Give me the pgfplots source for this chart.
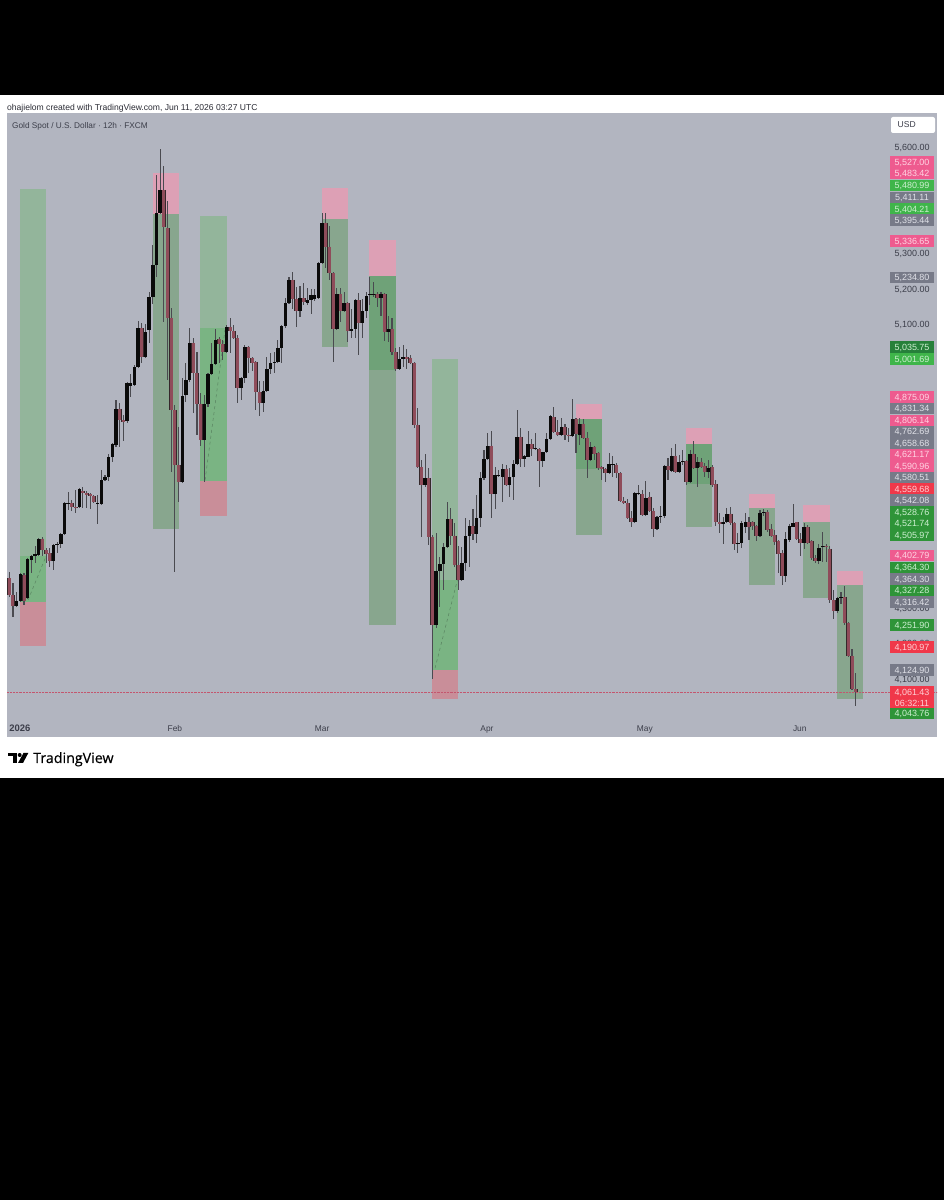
\documentclass[border=0pt]{standalone}
\usepackage{pgfplots}
\usepackage{pgfplotstable}
\pgfplotsset{compat=1.18}
\usepackage{fontspec}
\setmainfont{Liberation Sans}
\newfontfamily\logofont[FakeBold=0.4]{Open Sans}
\definecolor{panel}{HTML}{B2B5C0}
\definecolor{gLight}{HTML}{93B59B}
\definecolor{gLightIn}{HTML}{7AB483}
\definecolor{gGrey}{HTML}{88A68E}
\definecolor{gGreyIn}{HTML}{6FA278}
\definecolor{zPink}{HTML}{DDA0B5}
\definecolor{zStop}{HTML}{C98E99}
\definecolor{bPink}{HTML}{EE5B8F}
\definecolor{bGrey}{HTML}{777A88}
\definecolor{bGreen}{HTML}{3FB54A}
\definecolor{bDGreen}{HTML}{2E9438}
\definecolor{bDDGreen}{HTML}{26803A}
\definecolor{bRed}{HTML}{F0384A}
\definecolor{tPink}{HTML}{FFD3E2}
\definecolor{tGrey}{HTML}{E0E1E8}
\definecolor{tGreen}{HTML}{CDEFD0}
\definecolor{tRed}{HTML}{FFD0D4}
\definecolor{txt}{HTML}{3C3E4A}
\definecolor{wick}{HTML}{4A4A50}
\definecolor{redbody}{HTML}{8F4C5A}
\definecolor{redline}{HTML}{35282B}
\definecolor{blackbody}{HTML}{0A0A0A}
\definecolor{lastline}{HTML}{C4566E}
\pgfplotstableread{
i o h l c
0 4384 4401 4330 4336
1 4336 4371 4274 4305
2 4305 4345 4302 4319
3 4319 4398 4316 4396
4 4393 4398 4308 4319
5 4328 4440 4325 4438
6 4435 4449 4398 4446
7 4446 4474 4426 4452
8 4449 4497 4446 4495
9 4495 4500 4446 4463
10 4463 4469 4426 4452
11 4454 4469 4415 4432
12 4432 4480 4407 4477
13 4477 4486 4454 4480
14 4480 4511 4469 4509
15 4509 4598 4506 4596
16 4593 4627 4576 4596
17 4596 4604 4573 4584
18 4584 4632 4567 4581
19 4584 4638 4581 4636
20 4630 4641 4581 4624
21 4624 4630 4581 4618
22 4621 4624 4579 4615
23 4615 4618 4596 4598
24 4593 4618 4537 4596
25 4593 4689 4590 4661
26 4661 4675 4658 4669
27 4669 4734 4658 4725
28 4725 4765 4711 4762
29 4759 4886 4754 4861
30 4861 4878 4754 4830
31 4830 4844 4771 4824
32 4827 4937 4821 4934
33 4926 4960 4895 4934
34 4929 4985 4926 4979
35 4979 5109 4976 5089
36 5089 5103 4990 5007
37 5007 5100 5004 5078
38 5084 5191 5047 5177
39 5177 5324 5157 5267
40 5267 5521 5233 5414
41 5414 5594 5411 5479
42 5479 5546 5106 5374
43 5371 5448 4943 5118
44 5118 5146 4683 4858
45 4858 4872 4401 4703
46 4703 4810 4598 4655
47 4655 4949 4652 4897
48 4900 4991 4880 4943
49 4943 5089 4937 5047
50 5047 5061 4850 4963
51 4963 5022 4788 4875
52 4875 4906 4756 4773
53 4773 4900 4655 4875
54 4875 4963 4866 4960
55 4960 5047 4957 4988
56 4988 5087 4985 5056
57 5058 5064 4991 5044
58 5044 5056 4999 5022
59 5022 5098 5020 5092
60 5092 5118 5019 5081
61 5081 5098 5058 5061
62 5061 5070 4878 4920
63 4920 4951 4886 4949
64 4949 5042 4934 5036
65 5036 5038 4963 5005
66 5005 5008 4968 4991
67 4994 4997 4858 4909
68 4909 4940 4841 4878
69 4878 4940 4852 4912
70 4912 5008 4909 4974
71 4974 5019 4960 4991
72 4991 5022 4963 4994
73 4994 5056 4991 5033
74 5033 5098 4991 5095
75 5095 5174 5090 5160
76 5160 5233 5158 5225
77 5225 5247 5143 5171
78 5171 5205 5092 5137
79 5137 5208 5120 5174
80 5174 5216 5154 5163
81 5160 5202 5154 5168
82 5168 5199 5129 5183
83 5171 5199 5166 5183
84 5174 5275 5171 5272
85 5272 5414 5270 5386
86 5386 5414 5259 5318
87 5318 5377 5225 5244
88 5244 5247 4993 5087
89 5087 5202 5084 5185
90 5185 5202 5106 5137
91 5137 5191 5134 5160
92 5160 5163 5050 5081
93 5081 5143 5061 5087
94 5087 5171 5061 5168
95 5168 5188 5013 5103
96 5103 5171 5061 5137
97 5137 5191 5118 5180
98 5183 5233 5154 5185
99 5183 5219 5177 5186
100 5185 5191 5149 5174
101 5174 5191 5123 5185
102 5185 5188 5053 5078
103 5078 5123 5050 5087
104 5087 5118 5013 5022
105 5022 5033 4968 4974
106 4974 5036 4971 5002
107 5002 5042 4979 5008
108 5008 5030 4974 5002
109 5005 5013 4988 4991
110 4991 4993 4808 4816
111 4816 4864 4694 4697
112 4697 4717 4500 4647
113 4647 4734 4641 4666
114 4666 4694 4477 4500
115 4500 4506 4099 4252
116 4252 4511 4243 4404
117 4404 4443 4302 4423
118 4423 4483 4350 4471
119 4471 4598 4468 4551
120 4551 4582 4477 4503
121 4503 4539 4415 4421
122 4421 4474 4350 4379
123 4379 4471 4376 4426
124 4426 4554 4404 4503
125 4503 4548 4415 4531
126 4531 4579 4491 4509
127 4509 4618 4483 4554
128 4554 4683 4529 4666
129 4666 4745 4661 4720
130 4720 4793 4717 4757
131 4757 4799 4554 4621
132 4621 4697 4579 4675
133 4672 4689 4669 4675
134 4669 4706 4598 4692
135 4692 4703 4644 4647
136 4647 4694 4613 4669
137 4669 4717 4604 4706
138 4706 4858 4703 4782
139 4782 4807 4697 4720
140 4720 4731 4697 4729
141 4726 4799 4725 4762
142 4762 4776 4729 4748
143 4748 4793 4745 4751
144 4748 4751 4641 4714
145 4714 4741 4697 4740
146 4740 4793 4737 4776
147 4776 4843 4773 4841
148 4838 4867 4793 4796
149 4796 4830 4785 4788
150 4788 4836 4785 4810
151 4810 4819 4773 4788
152 4788 4807 4768 4785
153 4785 4889 4782 4833
154 4833 4836 4737 4791
155 4788 4836 4759 4819
156 4819 4833 4776 4779
157 4779 4796 4666 4717
158 4717 4768 4714 4754
159 4754 4757 4717 4734
160 4737 4740 4689 4694
161 4697 4699 4661 4692
162 4692 4694 4655 4680
163 4680 4737 4678 4706
164 4703 4729 4669 4706
165 4703 4709 4666 4680
166 4680 4682 4598 4601
167 4601 4613 4593 4596
168 4596 4607 4551 4554
169 4554 4573 4529 4542
170 4542 4627 4540 4624
171 4621 4647 4618 4624
172 4621 4632 4559 4562
173 4562 4658 4559 4610
174 4613 4627 4570 4573
175 4573 4582 4500 4523
176 4523 4560 4520 4557
177 4557 4587 4539 4560
178 4560 4703 4554 4700
179 4700 4723 4661 4689
180 4686 4751 4683 4729
181 4729 4762 4680 4683
182 4683 4731 4680 4711
183 4711 4745 4703 4714
184 4714 4717 4647 4655
185 4655 4745 4652 4734
186 4734 4771 4692 4694
187 4694 4725 4641 4711
188 4711 4723 4694 4697
189 4700 4709 4669 4683
190 4683 4717 4666 4694
191 4697 4703 4641 4647
192 4650 4661 4531 4542
193 4542 4568 4511 4537
194 4537 4557 4481 4542
195 4542 4582 4539 4565
196 4565 4585 4534 4539
197 4539 4542 4463 4481
198 4481 4511 4454 4483
199 4483 4545 4469 4539
200 4528 4568 4511 4542
201 4542 4557 4491 4528
202 4542 4545 4520 4531
203 4531 4534 4489 4503
204 4503 4576 4500 4568
205 4568 4579 4559 4571
206 4571 4576 4514 4520
207 4523 4537 4500 4503
208 4506 4520 4477 4486
209 4489 4491 4398 4452
210 4454 4463 4364 4390
211 4390 4514 4373 4494
212 4491 4537 4486 4531
213 4528 4593 4528 4539
214 4542 4543 4491 4494
215 4494 4511 4446 4483
216 4483 4539 4466 4528
217 4528 4534 4480 4483
218 4489 4491 4435 4440
219 4440 4449 4426 4432
220 4432 4480 4423 4469
221 4471 4514 4429 4474
222 4474 4480 4429 4471
223 4466 4474 4314 4322
224 4322 4350 4269 4291
225 4291 4330 4285 4328
226 4328 4345 4311 4331
227 4331 4362 4252 4257
228 4257 4260 4161 4164
229 4164 4184 4068 4071
230 4071 4117 4023 4061.43
}\candles
% filled zone: x from, x to, price from, price to, colour
\newcommand{\zone}[5]{\addplot[fill=#5,draw=none,forget plot] coordinates {(#1,#3) (#2,#3) (#2,#4) (#1,#4)} -- cycle;}
\newcommand{\badge}[4]{%
  \fill[#2] (889.5,{1200-(#1)-5.8}) rectangle (934,{1200-(#1)+5.8});
  \node[text=#3,font=\fontsize{9}{10}\selectfont,anchor=base] at (912,{1200-(#1)-3.1}) {#4};}
\begin{document}
\begin{tikzpicture}[x=1bp,y=1bp]
\useasboundingbox (0,0) rectangle (944,1200);
\fill[black] (0,0) rectangle (944,1200);
\fill[white] (0,{1200-778}) rectangle (944,{1200-95});
\begin{axis}[
  at={(7bp,463bp)},anchor=south west,scale only axis,
  width=930bp,height=623.5bp,
  xmin=-0.625,xmax=252.1,ymin=3935.7,ymax=5694.5,
  axis background/.style={fill=panel},
  axis line style={draw=none},
  tick style={draw=none},
  major tick length=0pt,
  xtick={2.9,45,85,129.8,172.7,214.8},
  xticklabels={\fontsize{9.5}{10}\selectfont\textbf{2026},Feb,Mar,Apr,May,Jun},
  x tick label style={anchor=base,yshift=5bp,font=\fontsize{8.4}{9}\selectfont,text=txt},
  ytick pos=right,
  ytick={4100,4200,4300,5100,5200,5300,5600},
  y tick label style={anchor=east,xshift=-4bp,yshift=-0.8bp,font=\fontsize{9}{10}\selectfont,text=txt},
  /pgf/number format/.cd,fixed,fixed zerofill,precision=2,1000 sep={,},assume math mode=true,
  /pgfplots/.cd,
  unbounded coords=discard,
]
% trade zones
\zone{2.9}{10.1}{4316.42}{5480.99}{gLight}
\zone{2.9}{10.1}{4316.42}{4445}{gLightIn}
\zone{2.9}{10.1}{4190.97}{4316.42}{zStop}
\zone{39}{46}{5411.11}{5527}{zPink}
\zone{39}{46}{4521.74}{5411.11}{gGrey}
\zone{51.9}{59.1}{4658.68}{5404.21}{gLight}
\zone{51.9}{59.1}{4658.68}{5090}{gLightIn}
\zone{51.9}{59.1}{4559.68}{4658.68}{zStop}
\zone{84.9}{92.1}{5395.44}{5483.42}{zPink}
\zone{84.9}{92.1}{5035.75}{5395.44}{gGrey}
\zone{97.8}{105.1}{5234.8}{5336.65}{zPink}
\zone{97.8}{105.1}{4251.9}{5234.8}{gGrey}
\zone{97.8}{105.1}{4972}{5234.8}{gGreyIn}
\zone{114.9}{122}{4124.9}{5001.69}{gLight}
\zone{114.9}{122}{4124.9}{4379}{gLightIn}
\zone{114.9}{122}{4043.76}{4124.9}{zStop}
\zone{154}{161.1}{4831.34}{4875.09}{zPink}
\zone{154}{161.1}{4505.97}{4831.34}{gGrey}
\zone{154}{161.1}{4692}{4831.34}{gGreyIn}
\zone{183.9}{191}{4762.69}{4806.14}{zPink}
\zone{183.9}{191}{4528.76}{4762.69}{gGrey}
\zone{183.9}{191}{4650}{4762.69}{gGreyIn}
\zone{200.9}{208.1}{4580.51}{4621.17}{zPink}
\zone{200.9}{208.1}{4364.3}{4580.51}{gGrey}
\zone{215.8}{223}{4542.08}{4590.96}{zPink}
\zone{215.8}{223}{4327.28}{4542.08}{gGrey}
\zone{224.8}{231.9}{4364.3}{4402.79}{zPink}
\zone{224.8}{231.9}{4043.76}{4364.3}{gGrey}
% dashed trade paths
\addplot[dashed,color=gGreyIn!80!black,line width=0.5bp,forget plot] coordinates {(5.1,4322) (10,4446)};
\addplot[dashed,color=gGreyIn!80!black,line width=0.5bp,forget plot] coordinates {(53.2,4660) (58.6,5083)};
\addplot[dashed,color=gGreyIn!80!black,line width=0.5bp,forget plot] coordinates {(115.7,4130) (121.9,4384)};
% last price line
\addplot[densely dotted,color=lastline,line width=0.45bp,forget plot] coordinates {(-0.625,4061.43) (231.9,4061.43) (252.1,4061.43)};
% wicks
\addplot[draw=none,forget plot,error bars/.cd,y dir=both,y explicit,error mark=none,
  error bar style={draw=wick,line width=1.1bp}]
  table[x=i,y=c,y error plus expr=\thisrow{h}-\thisrow{c},y error minus expr=\thisrow{c}-\thisrow{l}] {\candles};
% falling bodies: dark edge, then fill
\addplot[draw=none,forget plot,error bars/.cd,y dir=both,y explicit,error mark=none,
  error bar style={draw=redline,line width=4bp}]
  table[x expr={ifthenelse(\thisrow{c}<\thisrow{o},\thisrow{i},nan)},y=o,y error plus expr=0,y error minus expr=\thisrow{o}-\thisrow{c}] {\candles};
\addplot[draw=none,forget plot,error bars/.cd,y dir=both,y explicit,error mark=none,
  error bar style={draw=redbody,line width=3bp}]
  table[x expr={ifthenelse(\thisrow{c}<\thisrow{o},\thisrow{i},nan)},y=o,y error plus expr=0,y error minus expr=\thisrow{o}-\thisrow{c}] {\candles};
% rising bodies
\addplot[draw=none,forget plot,error bars/.cd,y dir=both,y explicit,error mark=none,
  error bar style={draw=blackbody,line width=3.4bp}]
  table[x expr={ifthenelse(\thisrow{c}>\thisrow{o},\thisrow{i},nan)},y=o,y error plus expr=\thisrow{c}-\thisrow{o},y error minus expr=0] {\candles};
\end{axis}
% header and footer
\node[anchor=base west,inner sep=0pt,text=txt!70!black,font=\fontsize{8.6}{10}\selectfont] at (7,{1200-110.5}) {ohajielom created with TradingView.com, Jun 11, 2026 03:27 UTC};
\node[anchor=base west,inner sep=0pt,text=txt,font=\fontsize{8.3}{10}\selectfont] at (12,{1200-128.5}) {Gold Spot / U.S. Dollar · 12h · FXCM};
\fill[white,rounded corners=2] (891,{1200-133}) rectangle (935,{1200-117});
\node[anchor=base west,inner sep=0pt,text=txt,font=\fontsize{8.6}{9}\selectfont] at (897.5,{1200-128}) {USD};
% TradingView mark
\fill[black] (8,{1200-753}) rectangle (17,{1200-756.5});
\fill[black] (12.7,{1200-753}) rectangle (17,{1200-763});
\fill[black] (19.7,{1200-755}) circle (2);
\fill[black] (23.5,{1200-753}) -- (28.3,{1200-753}) -- (23,{1200-763}) -- (18,{1200-763}) -- cycle;
\node[anchor=base west,inner sep=0pt,text=black,font=\logofont\fontsize{14.3}{16}\selectfont] at (33,{1200-763}) {TradingView};
% price badges
\badge{162}{bPink}{tPink}{5,527.00}
\badge{173.5}{bPink}{tPink}{5,483.42}
\badge{185.5}{bGreen}{tGreen}{5,480.99}
\badge{197.5}{bGrey}{tGrey}{5,411.11}
\badge{209}{bGreen}{tGreen}{5,404.21}
\badge{220}{bGrey}{tGrey}{5,395.44}
\badge{241}{bPink}{tPink}{5,336.65}
\badge{277.5}{bGrey}{tGrey}{5,234.80}
\badge{347}{bDDGreen}{tGreen}{5,035.75}
\badge{359}{bGreen}{tGreen}{5,001.69}
\badge{397}{bPink}{tPink}{4,875.09}
\badge{408.5}{bGrey}{tGrey}{4,831.34}
\badge{420.5}{bPink}{tPink}{4,806.14}
\badge{431.5}{bGrey}{tGrey}{4,762.69}
\badge{443}{bGrey}{tGrey}{4,658.68}
\badge{454.5}{bPink}{tPink}{4,621.17}
\badge{466}{bPink}{tPink}{4,590.96}
\badge{477.5}{bGrey}{tGrey}{4,580.51}
\badge{489}{bRed}{tRed}{4,559.68}
\badge{500}{bGrey}{tGrey}{4,542.08}
\badge{512}{bDGreen}{tGreen}{4,528.76}
\badge{523.5}{bDGreen}{tGreen}{4,521.74}
\badge{535}{bDGreen}{tGreen}{4,505.97}
\badge{555.5}{bPink}{tPink}{4,402.79}
\badge{567.5}{bDGreen}{tGreen}{4,364.30}
\badge{579}{bGrey}{tGrey}{4,364.30}
\badge{590.5}{bDGreen}{tGreen}{4,327.28}
\badge{602}{bGrey}{tGrey}{4,316.42}
\badge{625}{bDGreen}{tGreen}{4,251.90}
\badge{647}{bRed}{tRed}{4,190.97}
\badge{670}{bGrey}{tGrey}{4,124.90}
\badge{692}{bRed}{tRed}{4,061.43}
\badge{703}{bRed}{tRed}{06:32:11}
\badge{713.5}{bDGreen}{tGreen}{4,043.76}
\end{tikzpicture}
\end{document}
